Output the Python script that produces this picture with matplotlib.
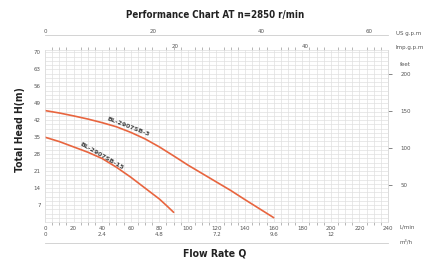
import numpy as np
import matplotlib
matplotlib.use("Agg")
import matplotlib.pyplot as plt
from matplotlib.ticker import MultipleLocator

# --------------------------------------------------
# DATA
# --------------------------------------------------
flow_a = [0, 10, 20, 30, 40, 50, 60, 70, 80, 90, 100, 110, 120, 130, 140, 150, 160]   # L/min
head_a = [46, 45, 43.8, 42.5, 41, 39.3, 37, 34.3, 31, 27.3, 23.5, 20, 16.5, 13, 9.2, 5.5, 1.8]  # m
name_a = "BL-2907SB-3"

flow_b = [0, 10, 20, 30, 40, 50, 60, 70, 80, 85, 90]
head_b = [35, 33.2, 31, 28.8, 26.2, 22.6, 18.5, 14, 9.5, 6.8, 4]
name_b = "BL-2907SB-15"

flow_ticks = [0, 20, 40, 60, 80, 100, 120, 140, 160, 180, 200, 220, 240]
head_ticks = [7, 14, 21, 28, 35, 42, 49, 56, 63, 70]
feet_ticks = [50, 100, 150, 200]
usgpm_ticks = [0, 20, 40, 60]
impgpm_ticks = [20, 40]

CURVE = "#e8653f"
TXT = "#555555"
GRID = "#e0e0e0"

M_TO_FT = 3.2808
LPM_PER_USG = 3.7854
LPM_PER_IMPG = 4.5461

HEAD_FONT = dict(fontweight="bold", color="#222222", ha="center", va="center",
                 family="DejaVu Sans", fontstretch="condensed")

# --------------------------------------------------
# FIGURE
# --------------------------------------------------
fig = plt.figure(figsize=(4.35, 2.61), dpi=100)
ax = fig.add_axes([45 / 435, 39 / 261, 343 / 435, 172 / 261])

ax.set_xlim(0, 240)
ax.set_ylim(0, 71)

ax.xaxis.set_minor_locator(MultipleLocator(5))
ax.yaxis.set_minor_locator(MultipleLocator(1.75))
ax.grid(which="both", color=GRID, linewidth=0.5)
ax.set_axisbelow(True)

ax.plot(flow_a, head_a, color=CURVE, linewidth=1.2, solid_capstyle="round")
ax.plot(flow_b, head_b, color=CURVE, linewidth=1.2, solid_capstyle="round")

ax.text(58, 39.2, name_a, fontsize=4.5, fontweight="bold", color="#444444",
        rotation=-21, ha="center", va="center")
ax.text(40, 27.0, name_b, fontsize=4.5, fontweight="bold", color="#444444",
        rotation=-30, ha="center", va="center")

# bottom labels: L/min with m3/h underneath every 40 L/min
labels = []
for q in flow_ticks:
    if q % 40 == 0 and q <= 200:
        s = "0" if q == 0 else f"{q * 0.06:g}"
        labels.append(f"{q}\n{s}")
    else:
        labels.append(f"{q}\n")
ax.set_xticks(flow_ticks)
ax.set_xticklabels(labels, fontsize=4, color=TXT, linespacing=1.3)
ax.set_yticks(head_ticks)
ax.set_yticklabels([str(h) for h in head_ticks], fontsize=4, color=TXT)
ax.tick_params(which="major", length=0, pad=3)
ax.tick_params(which="minor", axis="x", length=2, color="#aaaaaa",
               top=True, bottom=True)
ax.tick_params(which="minor", axis="y", length=0)
for sp in ax.spines.values():
    sp.set_color("#dddddd")
    sp.set_linewidth(0.5)

# line under m3/h row
bot = ax.secondary_xaxis(-0.122)
bot.set_xticks([])
bot.spines["bottom"].set_color("#cccccc")
bot.spines["bottom"].set_linewidth(0.6)

# top axes: Imp. g.p.m and US g.p.m
imp = ax.secondary_xaxis("top", functions=(lambda q: q / LPM_PER_IMPG,
                                           lambda g: g * LPM_PER_IMPG))
imp.set_xticks(impgpm_ticks)
imp.tick_params(labelsize=4, colors=TXT, length=0, pad=1)
imp.spines["top"].set_visible(False)

us = ax.secondary_xaxis(1.085, functions=(lambda q: q / LPM_PER_USG,
                                          lambda g: g * LPM_PER_USG))
us.set_xticks(usgpm_ticks)
us.tick_params(labelsize=4, colors=TXT, length=0, pad=1)
us.spines["top"].set_color("#cccccc")
us.spines["top"].set_linewidth(0.6)

# right axis in feet
ft = ax.secondary_yaxis("right", functions=(lambda m: m * M_TO_FT,
                                            lambda f: f / M_TO_FT))
ft.set_yticks(feet_ticks)
ft.tick_params(labelsize=4, colors=TXT, length=3, width=0.5, pad=6)
ft.spines["right"].set_color("#cccccc")
ft.spines["right"].set_linewidth(0.5)

# unit captions
fig.text(400 / 435, 1 - 64 / 261, "feet", fontsize=4, color=TXT, ha="left", va="center")
fig.text(400 / 435, 1 - 227 / 261, "L/min", fontsize=4, color=TXT, ha="left", va="center")
fig.text(400 / 435, 1 - 242 / 261, "m\u00b3/h", fontsize=4, color=TXT, ha="left", va="center")
fig.text(396 / 435, 1 - 33 / 261, "US g.p.m", fontsize=4, color=TXT, ha="left", va="center")
fig.text(396 / 435, 1 - 47 / 261, "Imp.g.p.m", fontsize=4, color=TXT, ha="left", va="center")

fig.text(215 / 435, 1 - 15 / 261, "Performance Chart AT n=2850 r/min",
         fontsize=7, **HEAD_FONT)
fig.text(215 / 435, 1 - 254 / 261, "Flow Rate Q", fontsize=7.5, **HEAD_FONT)
fig.text(20 / 435, 1 - 130 / 261, "Total Head H(m)", rotation=90,
         fontsize=7.5, **HEAD_FONT)

fig.savefig("out.png", dpi=100)
